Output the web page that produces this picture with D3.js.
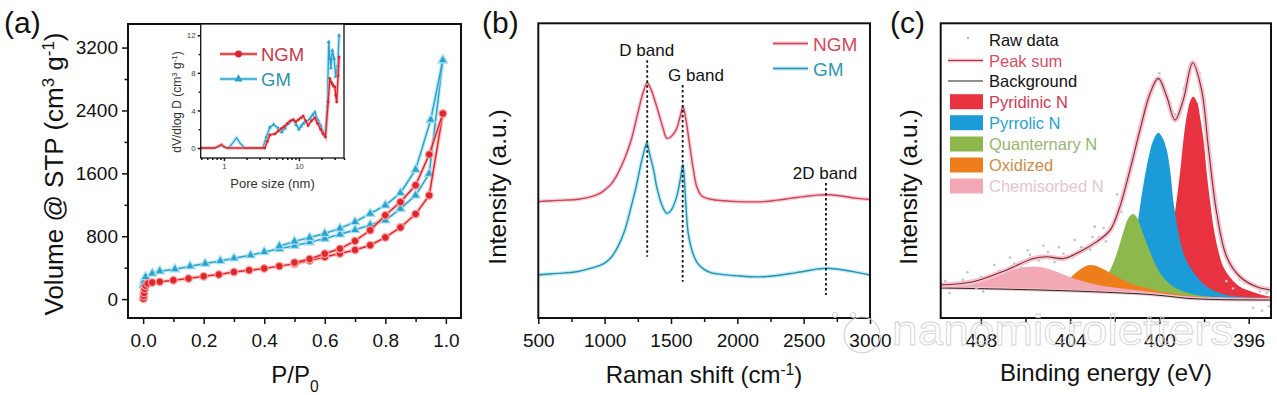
<!DOCTYPE html>
<html>
<head>
<meta charset="utf-8">
<script src="https://cdn.jsdelivr.net/npm/d3@7"></script>
<style>
body { margin: 0; background: #fff; }
svg text { font-family: "Liberation Sans", Arial, sans-serif; fill: #111; }
</style>
</head>
<body>
<div id="viz"></div>
<script>

// ---------- (a) N2 isotherms: [P/P0, volume]
var ngmAds = [[0.001,5],[0.002,40],[0.003,80],[0.005,130],[0.008,170],[0.015,200],[0.03,212],[0.055,220],[0.1,240],
  [0.15,262],[0.2,290],[0.25,313],[0.3,345],[0.35,368],[0.4,390],[0.45,420],[0.5,450],[0.55,490],[0.6,537],
  [0.65,580],[0.7,625],[0.75,686],[0.8,785],[0.85,912],[0.9,1082],[0.945,1320],[0.99,2360]];
var ngmDes = [[0.99,2360],[0.945,1840],[0.9,1448],[0.85,1236],[0.8,1067],[0.75,876],[0.7,740],[0.65,640],
  [0.6,578],[0.55,510],[0.5,465]];
var gmAds = [[0.001,180],[0.003,230],[0.008,283],[0.03,326],[0.055,355],[0.105,381],[0.155,419],[0.205,453],
  [0.255,486],[0.3,520],[0.355,558],[0.4,600],[0.45,640],[0.5,680],[0.55,725],[0.6,770],[0.65,825],[0.7,880],
  [0.75,945],[0.8,1003],[0.85,1152],[0.9,1321],[0.945,1596],[0.99,3040]];
var gmDes = [[0.99,3040],[0.95,2282],[0.9,1647],[0.85,1350],[0.8,1194],[0.75,1088],[0.7,982],[0.65,900],
  [0.6,834],[0.55,783],[0.5,735],[0.45,673]];
var isoYTicks = [0, 800, 1600, 2400, 3200];
var isoXTicks = [0, 0.2, 0.4, 0.6, 0.8, 1.0];

// inset: pore size distribution [nm, dV/dlogD]
var ngmPsd = [[0.49,0],[0.6,0],[0.75,0],[0.85,0.2],[0.93,0.4],[1.0,0.15],[1.1,0],[1.5,0],[2.0,0],[2.5,0],[3.0,0],
  [3.5,0],[3.8,0.7],[4.1,1.4],[4.8,1.5],[5.3,1.8],[5.9,2.1],[6.4,2.3],[7.0,2.6],[7.7,2.9],[8.4,3.0],[9.1,2.8],
  [9.8,3.0],[10.6,3.2],[11.4,3.4],[12.3,2.9],[13.3,2.4],[14.7,2.9],[16.3,3.2],[17.8,2.6],[19.5,2.0],[21,1.5],
  [22.6,1.2],[24.6,4.9],[25.9,7.4],[27,7.0],[28,6.8],[29,6.6],[30.2,6.5],[31,5.6],[32,4.9],[33.4,7.7],[34.4,9.7]];
var gmPsd = [[0.49,0],[0.6,0],[0.75,0],[0.85,0.15],[0.93,0.25],[1.0,0.1],[1.15,0],[1.3,0.5],[1.48,1.1],[1.65,0.5],
  [1.9,0],[2.5,0],[3.0,0],[3.3,0],[3.7,1.2],[4.1,2.2],[4.6,2.5],[5.3,2.1],[5.9,1.7],[6.5,2.1],[7.2,2.6],[8.4,3.0],
  [9.2,2.5],[10,2.0],[10.7,2.3],[11.4,2.6],[12.6,2.8],[14,3.1],[15.2,3.5],[16.3,3.8],[17.8,3.0],[19.5,2.4],
  [21,1.7],[22.6,1.2],[24,4.5],[25,11.3],[26,9.5],[26.7,8.5],[28,10.4],[29.5,9.5],[31,7.6],[33,8.8],[34.4,12]];
var psdYTicks = [0, 4, 8, 12];
var psdXTicks = [1, 10];

// ---------- (b) Raman: [shift, intensity a.u.]
var ramanNgm = [[500,39.5],[600,39.8],[700,40],[800,40.3],[900,41.2],[960,42.2],[1000,43.4],[1050,45.5],[1100,49.1],
  [1150,54],[1200,60.4],[1250,69.5],[1290,76.5],[1321,79.8],[1350,77.5],[1400,70.6],[1440,64.5],[1468,61],
  [1500,61.5],[1540,64],[1570,68.5],[1590,71.7],[1610,68],[1643,58],[1670,50],[1694,44.6],[1730,41.5],
  [1800,40.3],[1900,39.8],[2000,39.5],[2100,39.4],[2200,39.5],[2300,40],[2400,40.6],[2500,41.2],[2600,41.7],
  [2700,41.8],[2800,41.3],[2900,40.6],[3000,40.2]];
var ramanGm = [[500,14.6],[600,15],[700,15.3],[800,15.8],[900,16.9],[960,17.8],[1000,18.6],[1050,20.6],[1100,24.2],
  [1150,29.5],[1200,37.8],[1240,45],[1270,51.5],[1300,57],[1317,59.3],[1340,55.5],[1370,50],[1392,44.6],
  [1430,38.5],[1468,35.5],[1500,36.5],[1543,41.2],[1570,47],[1590,51.9],[1610,40],[1630,28.7],[1665,22],
  [1700,18.6],[1750,16.5],[1800,15.4],[1900,14.7],[2000,14.3],[2100,14.0],[2200,14.0],[2300,14.4],[2400,15.1],
  [2500,15.8],[2600,16.6],[2680,16.9],[2800,16.3],[2900,15.5],[3000,14.6]];
var bandNames = ["D band", "G band", "2D band"];
var bandPos = [1321, 1588, 2668];
var bandSpan = [[20.8,87.5],[12.3,79.1],[7.8,45.8]];
var ramanTicks = [500, 1000, 1500, 2000, 2500, 3000];

// ---------- (c) XPS N1s: [binding energy, intensity a.u.]
var rawData = [[409.6,12.5],[409.2,10.8],[408.8,13.0],[408.4,11.0],[408.0,14.0],[407.6,13.2],[407.2,16.0],[406.9,14.8],
  [406.5,18.5],[406.2,17.0],[405.8,21.5],[405.4,19.5],[405.0,22.5],[404.7,19.0],[404.3,21.8],[403.9,20.5],
  [403.5,24.0],[403.1,23.2],[402.7,27.5],[402.4,26.0],[402.0,33.0],[401.7,36.0],[401.4,48.0],[401.1,55.0],
  [400.8,66.0],[400.5,74.0],[400.2,80.5],[399.9,79.0],[399.6,74.5],[399.3,69.0],[399.0,72.0],[398.7,82.0],
  [398.4,85.0],[398.1,79.0],[397.8,60.0],[397.5,39.0],[397.2,27.0],[396.9,19.0],[396.6,15.5],[396.2,12.0],
  [395.9,11.5],[395.5,9.0],[395.2,8.5],[395.8,3.5],[395.4,2.5],[395.1,4.0],[407.9,9.0],[406.0,13.5],[403.0,27.5],
  [408.6,15.5],[407.4,18.0],[406.7,20.5],[405.9,23.0],[405.2,24.5],[404.5,24.0],[403.8,26.5],[402.9,31.0],
  [402.5,30.5],[401.9,42.0],[401.2,52.0],[400.6,70.0],[400.0,83.0],[399.5,70.5],[398.9,78.0],[398.2,83.0],
  [397.7,52.0],[397.4,33.0],[396.8,17.0],[396.4,13.0],[397.0,12.5],[396.7,10.0],[409.4,8.5],[408.2,10.0]];
var peakSum = [[409.83,11.2],[408.34,12.3],[406.84,16.3],[405.65,20.2],[405.05,20.8],[404.3,20.2],[403.56,22.5],
  [402.81,25.9],[402.21,29.8],[401.77,37.8],[401.32,50.2],[400.87,63.8],[400.42,76.2],[400.05,81.3],[399.67,75.1],
  [399.3,67.2],[398.93,74.0],[398.51,86.6],[398.11,77.4],[397.81,58.1],[397.43,35.5],[396.99,20.8],[396.39,14.0],
  [395.64,10.6],[394.97,9.5]];
var background = [[409.8,10.2],[407,9.8],[404,9.2],[402,8.6],[400.5,8.0],[399.5,7.3],[398.8,6.7],[398,6.4],
  [397,6.2],[394.97,6.1]];
var pyridinic = [[401.5,8.0],[400.5,10],[400.0,13],[399.6,22],[399.3,36],[399.08,49],[398.9,62],[398.78,68.3],
  [398.6,74],[398.48,75.1],[398.3,73],[398.18,68.3],[398.0,59],[397.88,49.1],[397.72,39],[397.58,31],[397.35,22.5],
  [397.14,17.4],[396.8,13.5],[396.39,10.6],[396.0,9.3],[395.64,8.4],[395.3,7.6],[394.97,7.2]];
var pyrrolic = [[402.5,8.8],[402.0,9.8],[401.6,12.5],[401.3,17],[401.1,25],[400.87,37.8],[400.57,51.3],[400.27,60.4],
  [400.05,62.9],[399.85,61],[399.67,57],[399.5,49],[399.38,40],[399.08,26.5],[398.85,20.5],[398.63,17.4],
  [398.3,13.8],[397.88,10.6],[397.4,8.8],[396.99,7.8],[396.3,7.1],[395.5,6.8],[394.97,6.7]];
var quaternary = [[403.2,9.4],[402.8,11],[402.5,13.5],[402.21,16.3],[401.95,21],[401.77,25.3],[401.6,29.5],
  [401.47,32.7],[401.3,34.8],[401.17,35.3],[401.0,34],[400.8,30],[400.5,24],[400.2,18.5],[399.9,14.5],[399.6,12],
  [399.3,10.3],[398.9,9.0],[398.5,8.1],[397.8,7.3],[397,6.9],[394.97,6.7]];
var oxidized = [[404.6,9.4],[404.3,11.5],[404.0,13.6],[403.7,15.6],[403.4,17.2],[403.1,18.0],[402.8,17.6],
  [402.5,16.5],[402.2,15.3],[401.9,14.0],[401.5,12.5],[401.0,11.0],[400.5,10.0],[400.0,9.0],[399.4,8.2],
  [398.8,7.6],[398,7.1],[397,6.8],[394.97,6.6]];
var chemisorbed = [[409.8,11.0],[409.0,11.5],[408.3,12.3],[407.6,13.6],[407.0,15.2],[406.5,16.5],[406.0,17.3],
  [405.6,17.5],[405.2,17.1],[404.8,16.2],[404.3,14.8],[403.8,13.3],[403.3,12.2],[402.8,11.3],[402.2,10.5],
  [401.5,9.8],[400.5,9.0],[399.5,8.0],[398.5,7.3],[397.5,7.0],[394.97,6.8]];
var compNames = ["Pyridinic N", "Pyrrolic N", "Quanternary N", "Oxidized", "Chemisorbed N"];
var xpsTicks = [408, 404, 400, 396];

// ---------- drawing
var svg = d3.select("#viz").append("svg")
  .attr("width", 1277).attr("height", 395)
  .style("background", "#fff");

function frame(x0, y0, x1, y1, w) {
  svg.append("rect")
    .attr("x", x0).attr("y", y0)
    .attr("width", x1 - x0).attr("height", y1 - y0)
    .style("fill", "none").style("stroke", "#111").style("stroke-width", w || 2);
}

// axis with labelled majors + unlabelled minors, domain line removed (frame draws it)
// mk() has to hand back a fresh d3 axis each time
function axis(mk, tr, major, minor, fmt, big, small, pad, fs) {
  var g1 = svg.append("g").attr("transform", tr)
    .call(mk().tickValues(minor).tickSize(small).tickFormat(""));
  var g2 = svg.append("g").attr("transform", tr)
    .call(mk().tickValues(major).tickSize(big).tickPadding(pad).tickFormat(fmt));
  [g1, g2].forEach(function(g) {
    g.select(".domain").remove();
    g.selectAll("line").style("stroke", "#111").style("stroke-width", 1.5);
    g.selectAll("text").style("font-size", fs + "px").style("fill", "#111")
      .style("font-family", "'Liberation Sans', Arial, sans-serif");
  });
  return g2;
}

function label(x, y, txt, fs, opts) {
  opts = opts || {};
  var t = svg.append("text").attr("x", x).attr("y", y)
    .style("font-size", fs + "px")
    .attr("text-anchor", opts.anchor || "start");
  if (opts.rotate) t.attr("transform", "rotate(-90," + x + "," + y + ")");
  if (opts.color) t.style("fill", opts.color);
  t.text(txt);
  return t;
}

function supText(t, parts) {
  // parts: [text, isSuper]
  parts.forEach(function(p) {
    var s = t.append("tspan").text(p[0]);
    if (p[1]) s.attr("baseline-shift", "super").style("font-size", "65%");
  });
}

// ===== panel (a)
var xA = d3.scaleLinear().domain([-0.05, 1.05]).range([128, 461]);
var yA = d3.scaleLinear().domain([-240, 3500]).range([318, 24]);

var lineA = d3.line().x(function(d) { return xA(d[0]); }).y(function(d) { return yA(d[1]); });

function isoSeries(data, col, halo, isTri) {
  svg.append("path").datum(data).attr("d", lineA)
    .style("fill", "none").style("stroke", halo).style("stroke-width", 4).style("opacity", 0.55);
  svg.append("path").datum(data).attr("d", lineA)
    .style("fill", "none").style("stroke", col).style("stroke-width", 1.5);
  var sym = d3.symbol().type(isTri ? d3.symbolTriangle : d3.symbolCircle).size(isTri ? 38 : 46);
  svg.append("g").selectAll("path").data(data).enter().append("path")
    .attr("d", sym)
    .attr("transform", function(d) { return "translate(" + xA(d[0]) + "," + yA(d[1]) + ")"; })
    .style("fill", col).style("stroke", halo).style("stroke-width", 1.2);
}

isoSeries(gmAds, "#2aa3cd", "#a5def0", true);
isoSeries(gmDes, "#2aa3cd", "#a5def0", true);
isoSeries(ngmAds, "#e0262c", "#f7a3a3", false);
isoSeries(ngmDes, "#e0262c", "#f7a3a3", false);

frame(128, 24, 461, 318);
axis(function() { return d3.axisBottom(xA); }, "translate(0,318)", isoXTicks, [0.1, 0.3, 0.5, 0.7, 0.9],
  d3.format(".1f"), 6, 4, 9.5, 19);
axis(function() { return d3.axisLeft(yA); }, "translate(128,0)", isoYTicks, [400, 1200, 2000, 2800],
  d3.format("d"), 6, 3.5, 4, 19);

var tA = label(63, 174, "", 26, { anchor: "middle", rotate: true });
supText(tA, [["Volume @ STP (cm"], ["3", 1], [" g"], ["-1", 1], [")"]]);
var tA2 = label(295, 383, "P/P", 24, { anchor: "middle" });
tA2.append("tspan").text("0").attr("baseline-shift", "sub").style("font-size", "65%");
label(4, 33, "(a)", 30);

// inset
var xI = d3.scaleLog().domain([0.49, 40]).range([200.7, 344]);
var yI = d3.scaleLinear().domain([-1.06, 13.2]).range([158, 24]);
var lineI = d3.line().x(function(d) { return xI(d[0]); }).y(function(d) { return yI(d[1]); });

svg.append("rect").attr("x", 200.7).attr("y", 24).attr("width", 143.3).attr("height", 134).style("fill", "#fff");

function psdSeries(data, col, halo, isTri) {
  svg.append("path").datum(data).attr("d", lineI)
    .style("fill", "none").style("stroke", halo).style("stroke-width", 3.5).style("opacity", 0.6);
  svg.append("path").datum(data).attr("d", lineI)
    .style("fill", "none").style("stroke", col).style("stroke-width", 1.4);
  var sym = d3.symbol().type(isTri ? d3.symbolTriangle : d3.symbolCircle).size(isTri ? 7 : 6);
  svg.append("g").selectAll("path").data(data.filter(function(d) { return d[0] > 3.4; })).enter().append("path")
    .attr("d", sym)
    .attr("transform", function(d) { return "translate(" + xI(d[0]) + "," + yI(d[1]) + ")"; })
    .style("fill", col);
}
psdSeries(gmPsd, "#2aa3cd", "#a5def0", true);
psdSeries(ngmPsd, "#d9262d", "#f5a0a0", false);

frame(200.7, 24, 344, 158, 1.3);
var psdMinorX = [0.5, 0.6, 0.7, 0.8, 0.9, 2, 3, 4, 5, 6, 7, 8, 9, 20, 30, 40];
var ix = axis(function() { return d3.axisBottom(xI); }, "translate(0,158)", psdXTicks, psdMinorX,
  d3.format("d"), 3, 2, 2, 8);
ix.selectAll("text").style("fill", "#444");
var iy = axis(function() { return d3.axisLeft(yI); }, "translate(200.7,0)", psdYTicks, [2, 6, 10],
  d3.format("d"), 3, 2, 2, 8);
iy.selectAll("text").style("fill", "#444");

var tI = label(181, 102, "", 12, { anchor: "middle", rotate: true, color: "#333" });
supText(tI, [["dV/dlog D (cm"], ["3", 1], [" g"], ["-1", 1], [")"]]);
label(272.5, 188, "Pore size (nm)", 13, { anchor: "middle", color: "#333" });

// inset legend
var legA = [["NGM", "#d9262d", "#f5a0a0", false, 54, "#c8384a"], ["GM", "#2aa3cd", "#a5def0", true, 79, "#2f93ad"]];
legA.forEach(function(l) {
  svg.append("line").attr("x1", 220).attr("x2", 257).attr("y1", l[4]).attr("y2", l[4])
    .style("stroke", l[2]).style("stroke-width", 4).style("opacity", 0.6);
  svg.append("line").attr("x1", 220).attr("x2", 257).attr("y1", l[4]).attr("y2", l[4])
    .style("stroke", l[1]).style("stroke-width", 1.6);
  svg.append("path").attr("d", d3.symbol().type(l[3] ? d3.symbolTriangle : d3.symbolCircle).size(l[3] ? 30 : 36)())
    .attr("transform", "translate(238.5," + l[4] + ")").style("fill", l[1]);
  label(261, l[4] + 6.5, l[0], 18.5, { color: l[5] });
});

// ===== panel (b)
var xB = d3.scaleLinear().domain([500, 3000]).range([538.3, 870]);
var yB = d3.scaleLinear().domain([0, 100]).range([318, 23.3]);
var lineB = d3.line().curve(d3.curveCatmullRom)
  .x(function(d) { return xB(d[0]); }).y(function(d) { return yB(d[1]); });

function ramanSeries(data, col, halo) {
  svg.append("path").datum(data).attr("d", lineB)
    .style("fill", "none").style("stroke", halo).style("stroke-width", 4).style("opacity", 0.55);
  svg.append("path").datum(data).attr("d", lineB)
    .style("fill", "none").style("stroke", col).style("stroke-width", 1.4);
}
ramanSeries(ramanNgm, "#c9485c", "#f2a8b6");
ramanSeries(ramanGm, "#2a91ad", "#8fdcef");

bandPos.forEach(function(b, i) {
  svg.append("line")
    .attr("x1", xB(b)).attr("x2", xB(b))
    .attr("y1", yB(bandSpan[i][1])).attr("y2", yB(bandSpan[i][0]))
    .style("stroke", "#111").style("stroke-width", 1.8).style("stroke-dasharray", "2.5,2.5");
});
var bandLabY = [56, 81, 179];
var bandLabX = [646.7, 696, 825];
bandNames.forEach(function(n, i) { label(bandLabX[i], bandLabY[i], n, 17, { anchor: "middle" }); });

frame(538.3, 23.3, 870, 318);
axis(function() { return d3.axisBottom(xB); }, "translate(0,318)", ramanTicks, [750, 1250, 1750, 2250, 2750],
  d3.format("d"), 6, 4, 9.5, 19);

label(506, 187, "Intensity (a.u.)", 24.5, { anchor: "middle", rotate: true });
var tB2 = label(704, 383, "", 24, { anchor: "middle" });
supText(tB2, [["Raman shift (cm"], ["-1", 1], [")"]]);
label(482, 33, "(b)", 30);

var legB = [["NGM", "#c9485c", "#f2a8b6", 43.5, "#cf4a5e"], ["GM", "#2a91ad", "#8fdcef", 68.5, "#2f98b2"]];
legB.forEach(function(l) {
  svg.append("line").attr("x1", 773).attr("x2", 808).attr("y1", l[3]).attr("y2", l[3])
    .style("stroke", l[2]).style("stroke-width", 4).style("opacity", 0.6);
  svg.append("line").attr("x1", 773).attr("x2", 808).attr("y1", l[3]).attr("y2", l[3])
    .style("stroke", l[1]).style("stroke-width", 1.6);
  label(813, l[3] + 7, l[0], 19, { color: l[4] });
});

// ===== panel (c)
var xC = d3.scaleLinear().domain([409.8, 395]).range([940.7, 1271]);
var yC = d3.scaleLinear().domain([0, 100]).range([318, 23.3]);

var bgX = background.map(function(d) { return -d[0]; });
function bgAt(e) {
  var i = d3.bisectLeft(bgX, -e);
  if (i <= 0) return background[0][1];
  if (i >= background.length) return background[background.length - 1][1];
  var a = background[i - 1], b = background[i];
  return a[1] + (b[1] - a[1]) * (a[0] - e) / (a[0] - b[0]);
}

var areaC = d3.area().curve(d3.curveCatmullRom)
  .x(function(d) { return xC(d[0]); })
  .y0(function(d) { return yC(bgAt(d[0])); })
  .y1(function(d) { return yC(d[1]); });
var lineC = d3.line().curve(d3.curveCatmullRom)
  .x(function(d) { return xC(d[0]); }).y(function(d) { return yC(d[1]); });

var compData = [pyridinic, pyrrolic, quaternary, oxidized, chemisorbed];
var compFill = ["#e8323f", "#1b9bd7", "#8cb84c", "#ee7e1c", "#f3a8b5"];
var compText = ["#cc3a55", "#2a9fd0", "#9ab472", "#c98d4c", "#e6c6cd"];

svg.append("clipPath").attr("id", "clipC").append("rect")
  .attr("x", 940.7).attr("y", 23.3).attr("width", 330.3).attr("height", 294.7);
var gC = svg.append("g").attr("clip-path", "url(#clipC)");

compData.forEach(function(c, i) {
  gC.append("path").datum(c).attr("d", areaC).style("fill", compFill[i]);
});

gC.append("path").datum(background).attr("d", lineC)
  .style("fill", "none").style("stroke", "#f6c5cc").style("stroke-width", 3);
gC.append("path").datum(background).attr("d", lineC)
  .style("fill", "none").style("stroke", "#222").style("stroke-width", 1);

gC.selectAll("circle.raw").data(rawData).enter().append("circle")
  .attr("cx", function(d) { return xC(d[0]); }).attr("cy", function(d) { return yC(d[1]); })
  .attr("r", 1.3).style("fill", "#bcc4cc");

gC.append("path").datum(peakSum).attr("d", lineC)
  .style("fill", "none").style("stroke", "#f6c3cb").style("stroke-width", 5);
gC.append("path").datum(peakSum).attr("d", lineC)
  .style("fill", "none").style("stroke", "#7c2a3a").style("stroke-width", 1.1);

frame(940.7, 23.3, 1271, 318);
axis(function() { return d3.axisBottom(xC); }, "translate(0,318)", xpsTicks, [406, 402, 398],
  d3.format("d"), 6, 4, 9.5, 19);

label(917, 187, "Intensity (a.u.)", 24.5, { anchor: "middle", rotate: true });
label(1106, 381, "Binding energy (eV)", 24, { anchor: "middle" });
label(890, 33, "(c)", 30);

// legend (c)
var legY = [39.5, 60.5, 81, 101.7, 122.7, 144, 165, 186];
svg.append("circle").attr("cx", 968).attr("cy", 38).attr("r", 1.3).style("fill", "#b5bec6");
label(989, legY[0] + 6, "Raw data", 16.5);
svg.append("line").attr("x1", 948).attr("x2", 983).attr("y1", legY[1]).attr("y2", legY[1])
  .style("stroke", "#f6c3cb").style("stroke-width", 4);
svg.append("line").attr("x1", 948).attr("x2", 983).attr("y1", legY[1]).attr("y2", legY[1])
  .style("stroke", "#a03048").style("stroke-width", 1.1);
label(989, legY[1] + 6, "Peak sum", 16.5, { color: "#d2506c" });
svg.append("line").attr("x1", 948).attr("x2", 983).attr("y1", legY[2]).attr("y2", legY[2])
  .style("stroke", "#222").style("stroke-width", 1.2);
label(989, legY[2] + 6, "Background", 16.5);
compNames.forEach(function(n, i) {
  var yy = legY[i + 3];
  svg.append("rect").attr("x", 950).attr("y", yy - 7.5).attr("width", 33).attr("height", 15)
    .style("fill", compFill[i]);
  label(989, yy + 6, n, 16.5, { color: compText[i] });
});

// watermark (sits over the axis labels, as in the source image)
svg.append("circle").attr("cx", 862).attr("cy", 335).attr("r", 18)
  .style("fill", "none").style("stroke", "#cfcfcf").style("stroke-width", 1.1);
svg.append("circle").attr("cx", 835).attr("cy", 315).attr("r", 2.5)
  .style("fill", "none").style("stroke", "#cfcfcf");
svg.append("circle").attr("cx", 853).attr("cy", 315).attr("r", 2.5)
  .style("fill", "none").style("stroke", "#cfcfcf");
svg.append("text").attr("x", 892).attr("y", 345)
  .attr("textLength", 341).attr("lengthAdjust", "spacingAndGlyphs")
  .style("font-size", "42px").style("fill", "none")
  .style("stroke", "#d2d2d2").style("stroke-width", 0.8)
  .text("nanomicroletters");

</script>
</body>
</html>
